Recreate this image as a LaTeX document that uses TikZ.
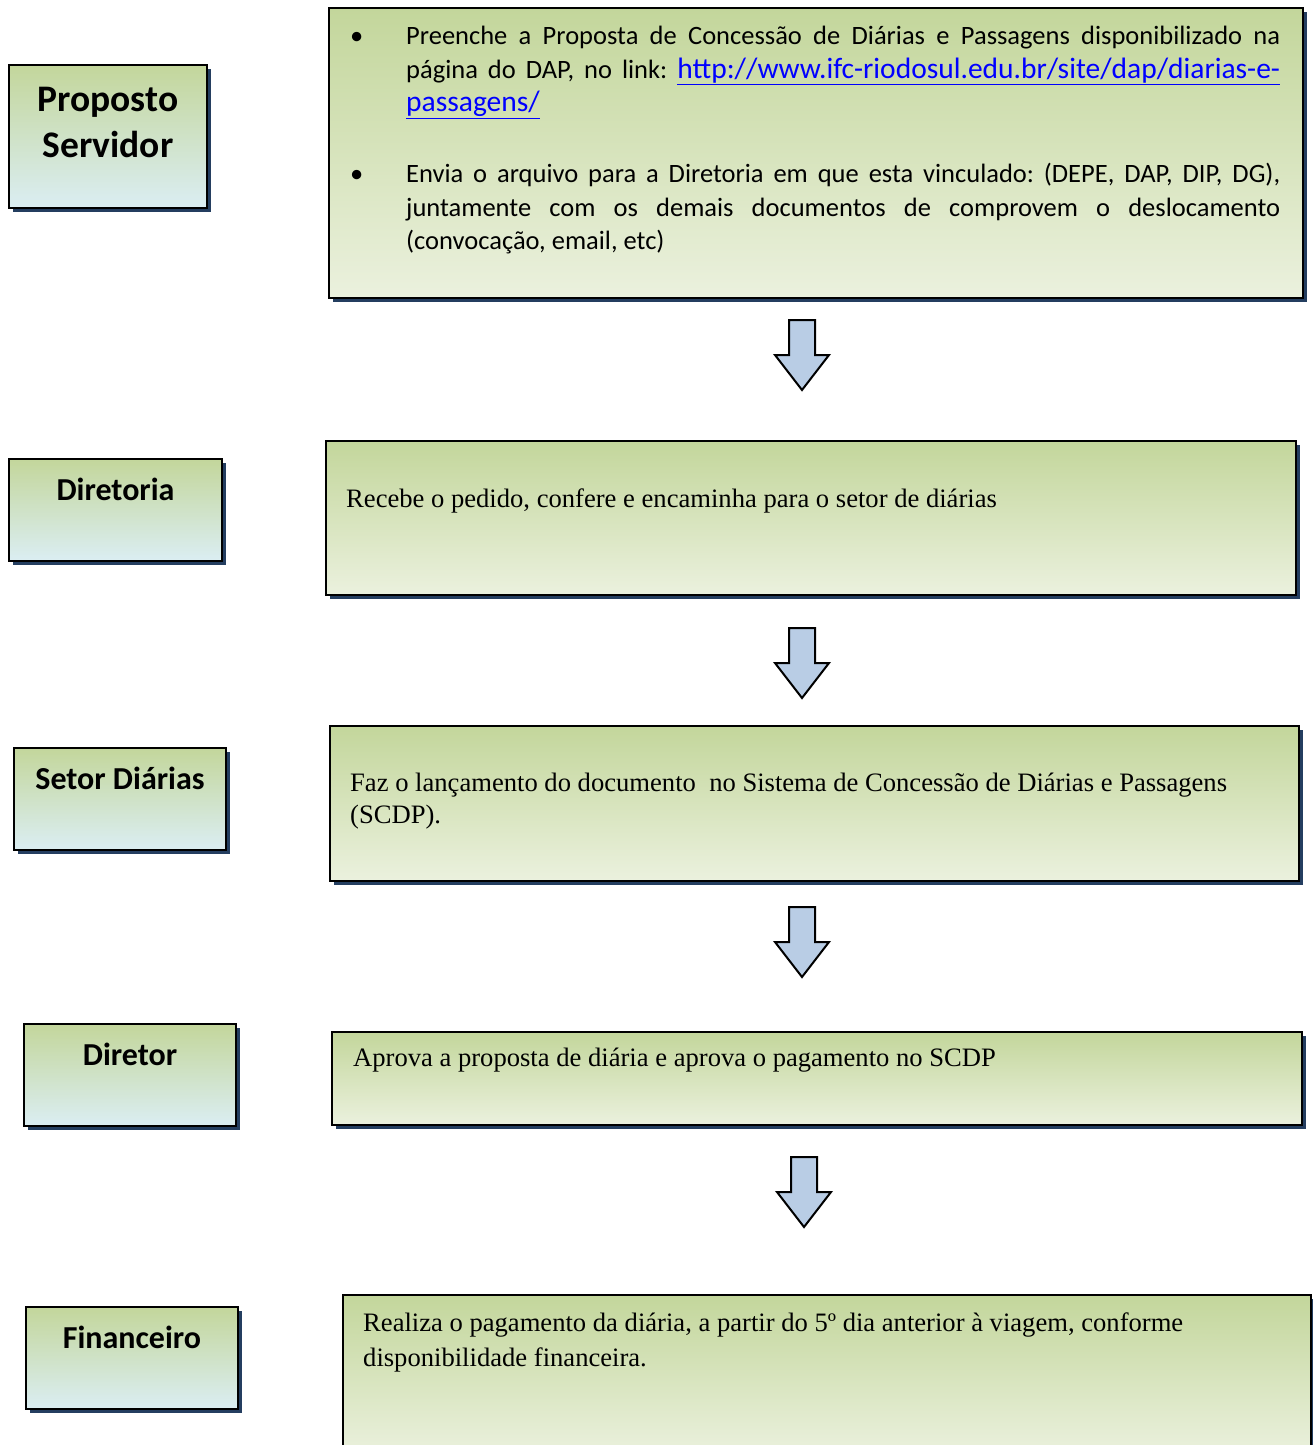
\documentclass[tikz,border=0pt]{standalone}
\usepackage{fontspec}
\setmainfont{Liberation Serif}
\newfontfamily\calibri{Carlito}
\usetikzlibrary{shadows}
\frenchspacing

\definecolor{boxgreen}{RGB}{195,214,155}
\definecolor{boxpale}{RGB}{235,241,222}
\definecolor{boxblue}{RGB}{219,238,243}
\definecolor{shadenavy}{RGB}{36,62,96}
\definecolor{arrowblue}{RGB}{185,205,229}
\definecolor{linkblue}{RGB}{0,0,255}

\newcommand{\linktext}[1]{{\color{linkblue}\fontsize{29.5}{33.5}\selectfont\underline{#1}}}

\tikzset{
	stepbox/.style={draw=black, line width=2pt, top color=boxgreen, bottom color=boxpale,
		drop shadow={shadow xshift=4pt, shadow yshift=-4pt, fill=shadenavy, opacity=1},
		anchor=north west, inner sep=0pt},
	rolebox/.style={stepbox, bottom color=boxblue},
	roletext/.style={font=\calibri\bfseries\fontsize{32}{38}\selectfont, anchor=base, inner sep=0pt},
	steptext/.style={font=\fontsize{26.6}{32}\selectfont, anchor=base west, inner sep=0pt},
	downarrow/.pic={
		\draw[line width=2pt, fill=arrowblue, line join=miter]
			(-13,0) -- (13,0) -- (13,35) -- (27,35) -- (0,70) -- (-27,35) -- (-13,35) -- cycle;
	}
}

\begin{document}
\begin{tikzpicture}[x=1pt,y=-1pt]
	\useasboundingbox (0,0) rectangle (1313,1445);
	\clip (0,0) rectangle (1313,1445);

	% who does it
	\node[rolebox, minimum width=198pt, minimum height=143pt] (papel1) at (8,64) {};
	\node[rolebox, minimum width=213pt, minimum height=102pt] (papel2) at (8,458) {};
	\node[rolebox, minimum width=212pt, minimum height=102pt] (papel3) at (13,747) {};
	\node[rolebox, minimum width=212pt, minimum height=102pt] (papel4) at (23,1023) {};
	\node[rolebox, minimum width=212pt, minimum height=102pt] (papel5) at (25,1306) {};

	\node[roletext, anchor=north, align=center, font=\calibri\bfseries\fontsize{37.5}{46}\selectfont]
		at ([shift={(0,23)}]papel1.north) {Proposto\\Servidor};
	\node[roletext] at ([shift={(0,42)}]papel2.north) {Diretoria};
	\node[roletext] at ([shift={(0,42)}]papel3.north) {Setor Diárias};
	\node[roletext] at ([shift={(0,42)}]papel4.north) {Diretor};
	\node[roletext] at ([shift={(0,42)}]papel5.north) {Financeiro};

	% what is done
	\node[stepbox, minimum width=974pt, minimum height=290pt] (passo1) at (328,7) {};
	\node[stepbox, minimum width=970pt, minimum height=154pt] (passo2) at (325,440) {};
	\node[stepbox, minimum width=969pt, minimum height=155pt] (passo3) at (329,725) {};
	\node[stepbox, minimum width=970pt, minimum height=93pt] (passo4) at (331,1031) {};
	\node[stepbox, minimum width=968pt, minimum height=160pt] (passo5) at (342,1294) {};

	\node[steptext] (texto1) at (350,45) {\parbox[t]{930pt}{\calibri\fontsize{26.5}{33.5}\selectfont
		\hangindent=56pt\hangafter=1\noindent\makebox[56pt][l]{\textbullet}Preenche a Proposta de Concessão de Diárias e Passagens disponibilizado na\linebreak
		página do DAP, no link: \linktext{http://www.ifc-riodosul.edu.br/site/dap/diarias-e-}\linebreak
		\linktext{passagens/}\par
		\vspace{37.5pt}
		\hangindent=56pt\hangafter=1\noindent\makebox[56pt][l]{\textbullet}Envia o arquivo para a Diretoria em que esta vinculado: (DEPE, DAP, DIP, DG),\linebreak
		juntamente com os demais documentos de comprovem o deslocamento\linebreak
		(convocação, email, etc)\par}};
	\node[steptext] (texto2) at (346,507) {Recebe o pedido, confere e encaminha para o setor de diárias};
	\node[steptext] (texto3) at (350,791) {\parbox[t]{930pt}{\raggedright
		Faz o lançamento do documento\ \ no Sistema de Concessão de Diárias e Passagens\\(SCDP).}};
	\node[steptext] (texto4) at (353,1066) {Aprova a proposta de diária e aprova o pagamento no SCDP};
	\node[steptext, font=\fontsize{26.6}{35}\selectfont] (texto5) at (363,1331) {\parbox[t]{930pt}{\raggedright
		Realiza o pagamento da diária, a partir do 5º dia anterior à viagem, conforme\\disponibilidade financeira.}};

	% arrows between the steps
	\pic (seta1) at (802,320) {downarrow};
	\pic (seta2) at (802,628) {downarrow};
	\pic (seta3) at (802,907) {downarrow};
	\pic (seta4) at (804,1157) {downarrow};
\end{tikzpicture}
\end{document}
